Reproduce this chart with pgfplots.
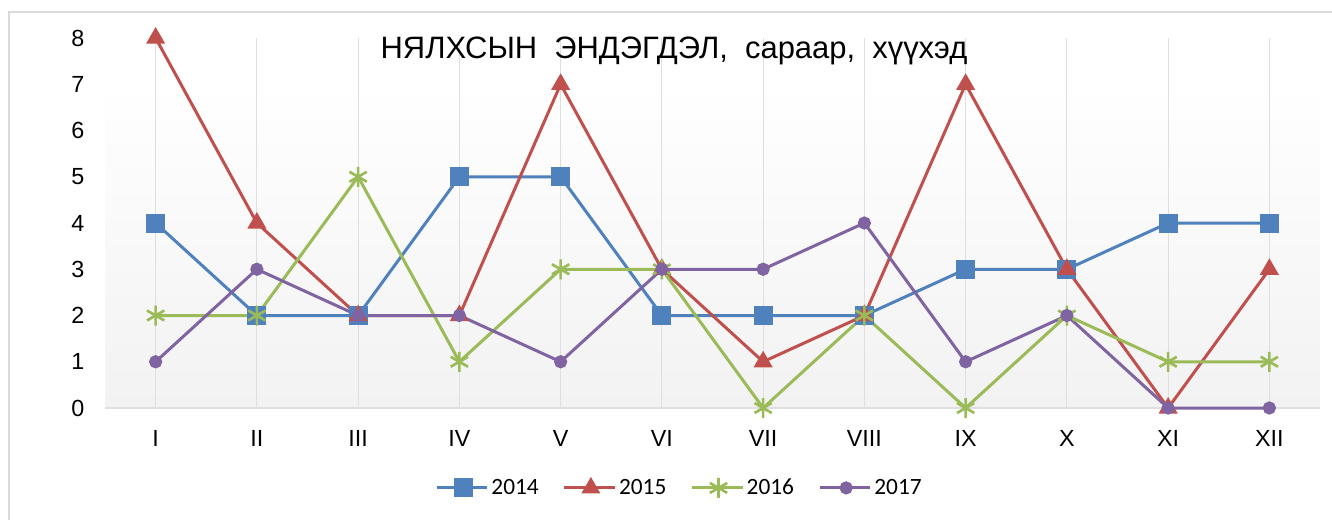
\documentclass[border=0pt]{standalone}
\usepackage{fontspec}
\setmainfont{Liberation Sans}
\newfontfamily\calibri{Carlito}
\usepackage{pgfplots}
\pgfplotsset{compat=1.18}
\definecolor{c14}{HTML}{4F81BD}
\definecolor{c15}{HTML}{C0504D}
\definecolor{c16}{HTML}{9BBB59}
\definecolor{c17}{HTML}{8064A2}
\definecolor{bgtop}{HTML}{FFFFFF}
\definecolor{bgbot}{HTML}{F2F2F2}
\begin{document}
\begin{tikzpicture}[x=0.75pt,y=0.75pt]
\path[use as bounding box,fill=white] (0,0) rectangle (1332,519);
\draw[gray!30,line width=1.2pt] (9,-20) -- (9,507) -- (1350,507);
% plot area fill (pixel coords, y up)
\fill[top color=bgtop,bottom color=bgbot,draw=none] (105,111) rectangle (1320,438);
\draw[gray!25,line width=1pt] (105,111) -- (1320,111);
\begin{axis}[at={(78.75pt,83.25pt)},anchor=south west,scale only axis,
  width=911.25pt,height=277.5pt,
  xmin=0.5,xmax=12.5,ymin=0,ymax=8,clip=false,
  axis line style={draw=none},
  xtick={1,...,12},xticklabels={I,II,III,IV,V,VI,VII,VIII,IX,X,XI,XII},
  ytick={0,...,8},
  major tick length=0pt,
  xmajorgrids,grid style={gray!25,line width=0.6pt},
  tick label style={font=\fontsize{17.5}{20}\selectfont},
  /pgf/number format/assume math mode=true,
  xticklabel style={yshift=-13pt},
  yticklabel style={xshift=-12pt},
  legend style={at={(0.473,-0.216)},anchor=center,draw=none,fill=none,
    font=\calibri\fontsize{17.5}{20}\selectfont,legend columns=4,
    /tikz/every even column/.append style={column sep=16pt}},
  legend image code/.code={
    \draw[#1,mark=none] (0pt,0pt) -- (38pt,0pt);
    \draw[#1,only marks] plot coordinates {(20pt,0pt)};},
  every axis plot/.append style={line width=2.25pt},
]
\addplot[c14,mark=square*,mark size=6pt,mark options={solid}] coordinates {
(1,4)(2,2)(3,2)(4,5)(5,5)(6,2)(7,2)(8,2)(9,3)(10,3)(11,4)(12,4)};
\addlegendentry{2014}
\addplot[c15,mark=triangle*,mark size=6pt] coordinates {
(1,8)(2,4)(3,2)(4,2)(5,7)(6,3)(7,1)(8,2)(9,7)(10,3)(11,0)(12,3)};
\addlegendentry{2015}
\addplot[c16,mark=asterisk,mark size=7.5pt,mark options={line width=2pt}] coordinates {
(1,2)(2,2)(3,5)(4,1)(5,3)(6,3)(7,0)(8,2)(9,0)(10,2)(11,1)(12,1)};
\addlegendentry{2016}
\addplot[c17,mark=*,mark size=3.8pt] coordinates {
(1,1)(2,3)(3,2)(4,2)(5,1)(6,3)(7,3)(8,4)(9,1)(10,2)(11,0)(12,0)};
\addlegendentry{2017}
\end{axis}
\node[font=\fontsize{23.2}{26}\selectfont] at (674,468) {НЯЛХСЫН\ \ ЭНДЭГДЭЛ,\ \ сараар,\ \ хүүхэд};
\end{tikzpicture}
\end{document}
